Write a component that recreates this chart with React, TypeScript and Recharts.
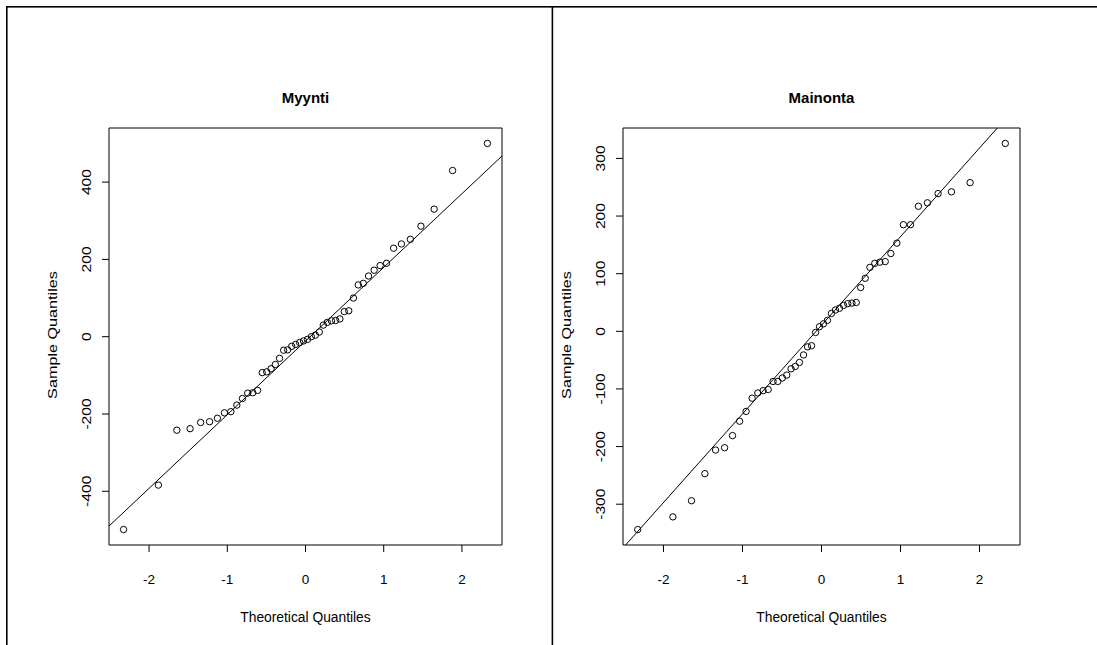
import React from "react";
import { ScatterChart, Scatter, XAxis, YAxis, ReferenceLine, ReferenceArea } from "recharts";

// normal scores for n = 50 (x axis of both panels)
const THEORETICAL_QUANTILES = [
  -2.3263, -1.8808, -1.6449, -1.4758, -1.3408, -1.2265, -1.1264, -1.0364, -0.9542, -0.8779,
  -0.8064, -0.7388, -0.6745, -0.6128, -0.5534, -0.4959, -0.4399, -0.3853, -0.3319, -0.2793,
  -0.2275, -0.1764, -0.1257, -0.0753, -0.0251, 0.0251, 0.0753, 0.1257, 0.1764, 0.2275,
  0.2793, 0.3319, 0.3853, 0.4399, 0.4959, 0.5534, 0.6128, 0.6745, 0.7388, 0.8064,
  0.8779, 0.9542, 1.0364, 1.1264, 1.2265, 1.3408, 1.4758, 1.6449, 1.8808, 2.3263,
];

// sorted sample values
const MYYNTI_SAMPLE = [
  -499, -384, -242, -238, -222, -220, -211, -197, -194, -177,
  -160, -146, -145, -139, -93, -91, -83, -72, -56, -35,
  -34, -25, -20, -15, -11, -7, 0, 4, 12, 30,
  37, 41, 42, 46, 65, 67, 100, 134, 138, 157,
  172, 184, 190, 229, 240, 252, 286, 330, 430, 500,
];

const MAINONTA_SAMPLE = [
  -344, -322, -294, -247, -206, -202, -181, -156, -139, -116,
  -107, -103, -101, -87, -87, -81, -76, -65, -61, -54,
  -41, -27, -25, -2, 8, 13, 19, 31, 37, 40,
  45, 48, 49, 50, 76, 92, 111, 118, 120, 121,
  135, 153, 185, 185, 217, 223, 239, 242, 258, 326,
];

const X_TICKS = [-2, -1, 0, 1, 2];
const MYYNTI_Y_TICKS = [-400, -200, 0, 200, 400];
const MAINONTA_Y_TICKS = [-300, -200, -100, 0, 100, 200, 300];

const X_DOMAIN: [number, number] = [-2.5124, 2.5124];
const MYYNTI_Y_DOMAIN: [number, number] = [-539, 540];
const MAINONTA_Y_DOMAIN: [number, number] = [-370.8, 352.8];

// qqline fits
const MYYNTI_LINE = { intercept: -11.2, slope: 190.6 };
const MAINONTA_LINE = { intercept: 10.5, slope: 153.8 };

const FONT = "'Liberation Sans', Arial, Helvetica, sans-serif";
const CHART_H = 645;
const PLOT_TOP = 128;
const PLOT_BOTTOM = 545;
const V_STRETCH = 1.2; // vertical text is drawn a bit longer in the original

// cut the fitted line to the plotting box
const clipLine = (line: { intercept: number; slope: number }, yDom: [number, number]) => {
  const xa = Math.max(X_DOMAIN[0], (yDom[0] - line.intercept) / line.slope);
  const xb = Math.min(X_DOMAIN[1], (yDom[1] - line.intercept) / line.slope);
  return [
    { x: xa, y: line.intercept + line.slope * xa },
    { x: xb, y: line.intercept + line.slope * xb },
  ];
};

const OpenCircle = (props: any) => (
  <circle cx={props.cx} cy={props.cy} r={3.2} fill="none" stroke="#000" strokeWidth={1} />
);

const XTick = (props: any) => (
  <text
    x={props.x}
    y={PLOT_BOTTOM + 34.5}
    textAnchor="middle"
    dominantBaseline="central"
    fontSize={13.5}
    fontFamily={FONT}
    fill="#000"
  >
    {props.payload.value}
  </text>
);

const VText = ({ x, y, size, children }: { x: number; y: number; size: number; children: React.ReactNode }) => (
  <text
    x={0}
    y={0}
    transform={`translate(${x}, ${y}) rotate(-90) scale(${V_STRETCH}, 1)`}
    textAnchor="middle"
    dominantBaseline="central"
    fontSize={size}
    fontFamily={FONT}
    fill="#000"
  >
    {children}
  </text>
);

const makeYTick = (plotLeft: number) => (props: any) => (
  <VText x={plotLeft - 23} y={props.y} size={13}>
    {props.payload.value}
  </VText>
);

interface PanelProps {
  title: string;
  sample: number[];
  yDomain: [number, number];
  yTicks: number[];
  line: { intercept: number; slope: number };
  left: number;
  width: number;
  plotLeft: number;
  plotRight: number;
}

const Panel = ({ title, sample, yDomain, yTicks, line, left, width, plotLeft, plotRight }: PanelProps) => {
  const points = THEORETICAL_QUANTILES.map((q, i) => ({ x: q, y: sample[i] }));
  const yAxisW = plotLeft - left;
  const midX = (plotLeft + plotRight) / 2 - left;
  const midY = (PLOT_TOP + PLOT_BOTTOM) / 2 - 1.5;
  const labelX = plotLeft - 57 - left;
  return (
    <div style={{ position: "absolute", left, top: 0, width, height: CHART_H }}>
      <ScatterChart
        width={width}
        height={CHART_H}
        margin={{ top: PLOT_TOP, right: left + width - plotRight, bottom: 0, left: 0 }}
      >
        <XAxis
          type="number"
          dataKey="x"
          domain={X_DOMAIN}
          ticks={X_TICKS}
          allowDataOverflow
          axisLine={false}
          tickLine={{ stroke: "#000" }}
          tickSize={7}
          tickMargin={0}
          height={CHART_H - PLOT_BOTTOM}
          tick={<XTick />}
        />
        <YAxis
          type="number"
          dataKey="y"
          domain={yDomain}
          ticks={yTicks}
          allowDataOverflow
          axisLine={false}
          tickLine={{ stroke: "#000" }}
          tickSize={7}
          tickMargin={0}
          width={yAxisW}
          tick={makeYTick(yAxisW)}
        />
        <ReferenceArea
          x1={X_DOMAIN[0]}
          x2={X_DOMAIN[1]}
          y1={yDomain[0]}
          y2={yDomain[1]}
          fill="none"
          stroke="#000"
          strokeWidth={1}
          ifOverflow="visible"
        />
        <ReferenceLine
          segment={clipLine(line, yDomain)}
          stroke="#000"
          strokeWidth={1}
          ifOverflow="visible"
        />
        <Scatter data={points} shape={OpenCircle} isAnimationActive={false} />
      </ScatterChart>
      <svg
        width={width}
        height={CHART_H}
        style={{ position: "absolute", left: 0, top: 0, pointerEvents: "none" }}
      >
        <text x={midX} y={103} textAnchor="middle" fontSize={15} fontWeight="bold" fontFamily={FONT} fill="#000">
          {title}
        </text>
        <text x={midX} y={617} textAnchor="middle" dominantBaseline="central" fontSize={13.8} fontFamily={FONT} fill="#000">
          Theoretical Quantiles
        </text>
        <VText x={labelX} y={midY} size={13.5}>
          Sample Quantiles
        </VText>
      </svg>
    </div>
  );
};

export default function App() {
  return (
    <div style={{ position: "absolute", left: 0, top: 0, width: 1097, height: CHART_H, background: "#fff", overflow: "hidden" }}>
      <Panel
        title="Myynti"
        sample={MYYNTI_SAMPLE}
        yDomain={MYYNTI_Y_DOMAIN}
        yTicks={MYYNTI_Y_TICKS}
        line={MYYNTI_LINE}
        left={0}
        width={552}
        plotLeft={109}
        plotRight={502}
      />
      <Panel
        title="Mainonta"
        sample={MAINONTA_SAMPLE}
        yDomain={MAINONTA_Y_DOMAIN}
        yTicks={MAINONTA_Y_TICKS}
        line={MAINONTA_LINE}
        left={553}
        width={544}
        plotLeft={623}
        plotRight={1020}
      />
      <svg width={1097} height={CHART_H} style={{ position: "absolute", left: 0, top: 0, pointerEvents: "none" }}>
        <rect x={6} y={6} width={1091} height={1.6} fill="#000" />
        <rect x={6} y={6} width={1.6} height={639} fill="#000" />
        <rect x={551.6} y={6} width={1.6} height={639} fill="#000" />
      </svg>
    </div>
  );
}
